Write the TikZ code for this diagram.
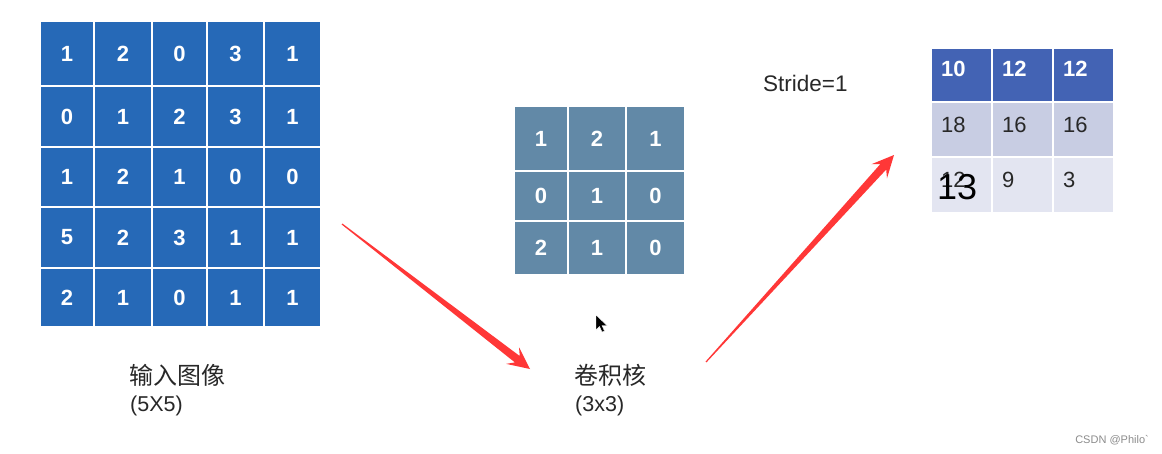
\documentclass[tikz,border=0pt]{standalone}
\usepackage{fontspec}
\setmainfont{Liberation Sans}
\newfontfamily\cjk{Noto Sans CJK SC}
\usetikzlibrary{calc}
\definecolor{inblue}{RGB}{38,105,183}
\definecolor{kblue}{RGB}{98,137,167}
\definecolor{ohead}{RGB}{67,99,180}
\definecolor{orowb}{RGB}{200,205,227}
\definecolor{orowc}{RGB}{227,229,241}
\definecolor{arrred}{RGB}{255,55,55}
\definecolor{txtdark}{RGB}{40,40,40}
\tikzset{
  cellbox/.style={draw=white, line width=1.5pt, inner sep=0pt, outer sep=0pt},
  bignum/.style={text=white, font=\fontsize{22}{24}\selectfont\bfseries},
  outhead/.style={anchor=base west, inner sep=0pt, text=white, font=\fontsize{22}{24}\selectfont\bfseries},
  outbody/.style={anchor=base west, inner sep=0pt, text=txtdark, font=\fontsize{22}{24}\selectfont},
  captext/.style={anchor=base west, inner sep=0pt, text=txtdark},
}
\newcommand\gridcells[5]{% #1 xs, #2 ys, #3 rows, #4 fill, #5 name
  \foreach \rowvals [count=\r from 0] in {#3} {
    \foreach \v [count=\c from 0] in \rowvals {
      \pgfmathsetmacro\xa{#1[\c]}
      \pgfmathsetmacro\xb{#1[\c+1]}
      \pgfmathsetmacro\ya{#2[\r]}
      \pgfmathsetmacro\yb{#2[\r+1]}
      \pgfmathsetmacro\w{\xb-\xa}
      \pgfmathsetmacro\h{\yb-\ya}
      \pgfmathsetmacro\cx{(\xa+\xb)/2}
      \pgfmathsetmacro\cy{(\ya+\yb)/2}
      \node[cellbox, fill=#4, minimum width=\w pt, minimum height=\h pt, bignum] (#5-\r-\c) at (\cx,\cy) {\v};
    }
  }
}
\newcommand\outrow[5]{% #1 row index, #2 fill, #3 text style, #4 values, #5 baseline offset
  \foreach \v [count=\c from 0] in {#4} {
    \pgfmathsetmacro\xa{{931,992,1053,1114}[\c]}
    \pgfmathsetmacro\xb{{931,992,1053,1114}[\c+1]}
    \pgfmathsetmacro\ya{{48,102,157,213}[#1]}
    \pgfmathsetmacro\yb{{48,102,157,213}[#1+1]}
    \pgfmathsetmacro\w{\xb-\xa}
    \pgfmathsetmacro\h{\yb-\ya}
    \pgfmathsetmacro\cx{(\xa+\xb)/2}
    \pgfmathsetmacro\cy{(\ya+\yb)/2}
    \node[cellbox, fill=#2, minimum width=\w pt, minimum height=\h pt] (o-#1-\c) at (\cx,\cy) {};
    \node[#3] (o-#1-\c-t) at ($(o-#1-\c.north west)+(10,#5)$) {\v};
  }
}
\newcommand\taper[2]{% #1 tail, #2 tip
  \path ($(#2)!16pt!(#1)$) coordinate (sj) ($(#2)!22pt!(#1)$) coordinate (hb);
  \fill[arrred] ($(#1)!0.6pt!90:(#2)$) -- ($(sj)!4pt!90:(#2)$) -- ($(hb)!10.5pt!90:(#2)$) -- (#2)
    -- ($(hb)!10.5pt!-90:(#2)$) -- ($(sj)!4pt!-90:(#2)$) -- ($(#1)!0.6pt!-90:(#2)$) -- cycle;
}
\begin{document}
\begin{tikzpicture}[x=1pt,y=-1pt]
\useasboundingbox (0,0) rectangle (1162,453);
\fill[white] (0,0) rectangle (1162,453);

% input image 5x5
\gridcells{{40,94,152,207,264,321}}{{21,86,147,207,268,327}}{{1,2,0,3,1},{0,1,2,3,1},{1,2,1,0,0},{5,2,3,1,1},{2,1,0,1,1}}{inblue}{in}

% kernel 3x3
\gridcells{{514,568,626,685}}{{106,171,221,275}}{{1,2,1},{0,1,0},{2,1,0}}{kblue}{k}

% output
\outrow{0}{ohead}{outhead}{10,12,12}{28}
\outrow{1}{orowb}{outbody}{18,16,16}{30}
\outrow{2}{orowc}{outbody}{12,9,3}{30}
\node[anchor=base west, inner sep=0pt, text=black, font=\fontsize{36}{38}\selectfont] (thirteen) at (937,199) {13};

% stride
\node[captext, font=\fontsize{22.5}{25}\selectfont] (stride) at (763,91) {Stride=1};

% captions
\node[captext, font=\cjk\fontsize{24}{27}\selectfont] (cap1) at (129,384) {输入图像};
\node[captext, font=\fontsize{21.5}{24}\selectfont] (cap1b) at (130,411) {(5X5)};
\node[captext, font=\cjk\fontsize{24}{27}\selectfont] (cap2) at (574,384) {卷积核};
\node[captext, font=\fontsize{21.5}{24}\selectfont] (cap2b) at (575,411) {(3x3)};

% arrows
\coordinate (a1s) at (342,224);
\coordinate (a1e) at (530,369);
\coordinate (a2s) at (706,362);
\coordinate (a2e) at (894,155);
\taper{a1s}{a1e}
\taper{a2s}{a2e}

% mouse cursor
\fill[black, draw=white, line width=0.4pt] (596,315) -- (596,330) -- (599.5,326.5) -- (602,332) -- (604.5,331) -- (602,325.5) -- (607,325.5) -- cycle;

% watermark
\node[anchor=base east, inner sep=0pt, text=black!45, font=\fontsize{11}{12}\selectfont] (wm) at (1149,443) {CSDN @Philo\textasciigrave};
\end{tikzpicture}
\end{document}
